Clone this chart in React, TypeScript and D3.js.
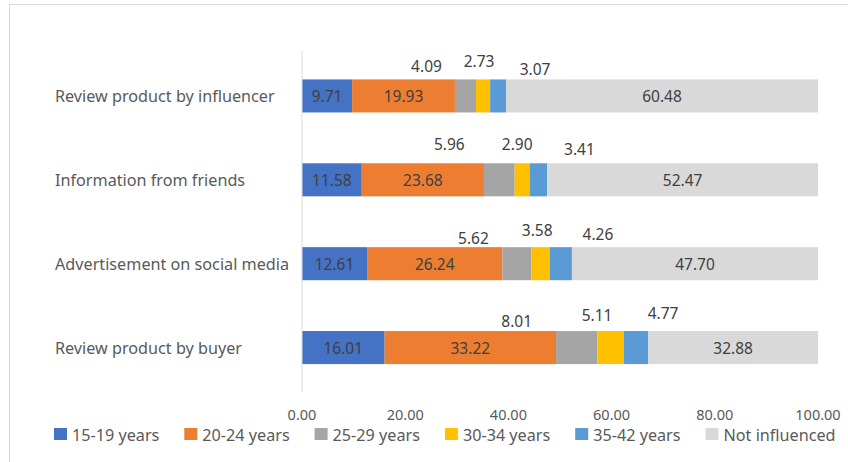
import React from "react";
import * as d3 from "d3";

const categories = [
  "Review product by influencer",
  "Information from friends",
  "Advertisement on social media",
  "Review product by buyer",
];
const seriesNames = [
  "15-19 years",
  "20-24 years",
  "25-29 years",
  "30-34 years",
  "35-42 years",
  "Not influenced",
];
const age15to19 = [9.71, 11.58, 12.61, 16.01];
const age20to24 = [19.93, 23.68, 26.24, 33.22];
const age25to29 = [4.09, 5.96, 5.62, 8.01];
const age30to34 = [2.73, 2.9, 3.58, 5.11];
const age35to42 = [3.07, 3.41, 4.26, 4.77];
const notInfluenced = [60.48, 52.47, 47.7, 32.88];
const xTicks = [0, 20, 40, 60, 80, 100];

// styling / layout
const colors = ["#4472c4", "#ed7d31", "#a5a5a5", "#ffc000", "#5b9bd5", "#d9d9d9"];
const insideLabel = [true, true, false, false, false, true];
// manual placement of outside labels (px offsets): [dx from segment centre, dy from bar top]
const outsideOffsets: Record<number, [number, number][]> = {
  2: [[-39, -13.5], [-50, -19], [-43.5, -9], [-60, -10]],
  3: [[-4, -18], [-5, -19], [-3.5, -17], [-13.5, -16]],
  4: [[37, -10.5], [41, -14], [37, -13], [27, -18]],
};

const W = 848;
const H = 462;
const FONT = "'Noto Sans', 'Open Sans', sans-serif";

export default function App() {
  const values = [age15to19, age20to24, age25to29, age30to34, age35to42, notInfluenced];
  const rows = categories.map((c, i) => {
    const r: any = { category: c };
    seriesNames.forEach((s, k) => (r[s] = values[k][i]));
    return r;
  });
  const stacked = d3.stack<any>().keys(seriesNames)(rows);

  const x = d3.scaleLinear().domain([0, 100]).range([302, 818]);
  const y = d3
    .scaleBand<string>()
    .domain(categories)
    .range([54, 389.5])
    .paddingInner(0.606)
    .paddingOuter(0.303);
  const bh = y.bandwidth();

  const legendX = (i: number) => 54 + i * 130.3;

  return (
    <svg
      width={W}
      height={H}
      style={{ position: "absolute", left: 0, top: 0, background: "#fff" }}
      fontFamily={FONT}
    >
      <rect x={9.5} y={4.5} width={W + 10} height={H + 10} fill="#fff" stroke="#d9d9d9" strokeWidth={1} />

      {/* bars */}
      {stacked.map((layer, k) =>
        layer.map((d, i) => (
          <rect
            key={`${k}-${i}`}
            x={x(d[0])}
            y={y(categories[i])}
            width={x(d[1]) - x(d[0])}
            height={bh}
            fill={colors[k]}
          />
        ))
      )}

      {/* axis line */}
      <line x1={302} x2={302} y1={51} y2={392} stroke="#d9d9d9" strokeWidth={1} />

      {/* data labels */}
      {stacked.map((layer, k) =>
        layer.map((d, i) => {
          const cx = (x(d[0]) + x(d[1])) / 2;
          const top = y(categories[i]) as number;
          const v = values[k][i].toFixed(2);
          const [dx, dy] = insideLabel[k] ? [0, bh / 2] : outsideOffsets[k][i];
          return (
            <text
              key={`l${k}-${i}`}
              x={cx + dx}
              y={top + dy}
              textAnchor="middle"
              dominantBaseline="central"
              fontSize={15.5}
              fill="#404040"
            >
              {v}
            </text>
          );
        })
      )}

      {/* category labels */}
      {categories.map((c) => (
        <text
          key={c}
          x={55}
          y={(y(c) as number) + bh / 2}
          dominantBaseline="central"
          fontSize={16.2}
          fill="#595959"
        >
          {c}
        </text>
      ))}

      {/* x tick labels */}
      {xTicks.map((t) => (
        <text
          key={t}
          x={x(t)}
          y={414}
          textAnchor="middle"
          dominantBaseline="central"
          fontSize={14.5}
          fill="#595959"
        >
          {t.toFixed(2)}
        </text>
      ))}

      {/* legend */}
      {seriesNames.map((s, k) => (
        <g key={s} transform={`translate(${legendX(k)},0)`}>
          <rect x={0} y={428} width={13} height={12} fill={colors[k]} />
          <text x={18} y={434.5} dominantBaseline="central" fontSize={16.2} fill="#595959">
            {s}
          </text>
        </g>
      ))}
    </svg>
  );
}
